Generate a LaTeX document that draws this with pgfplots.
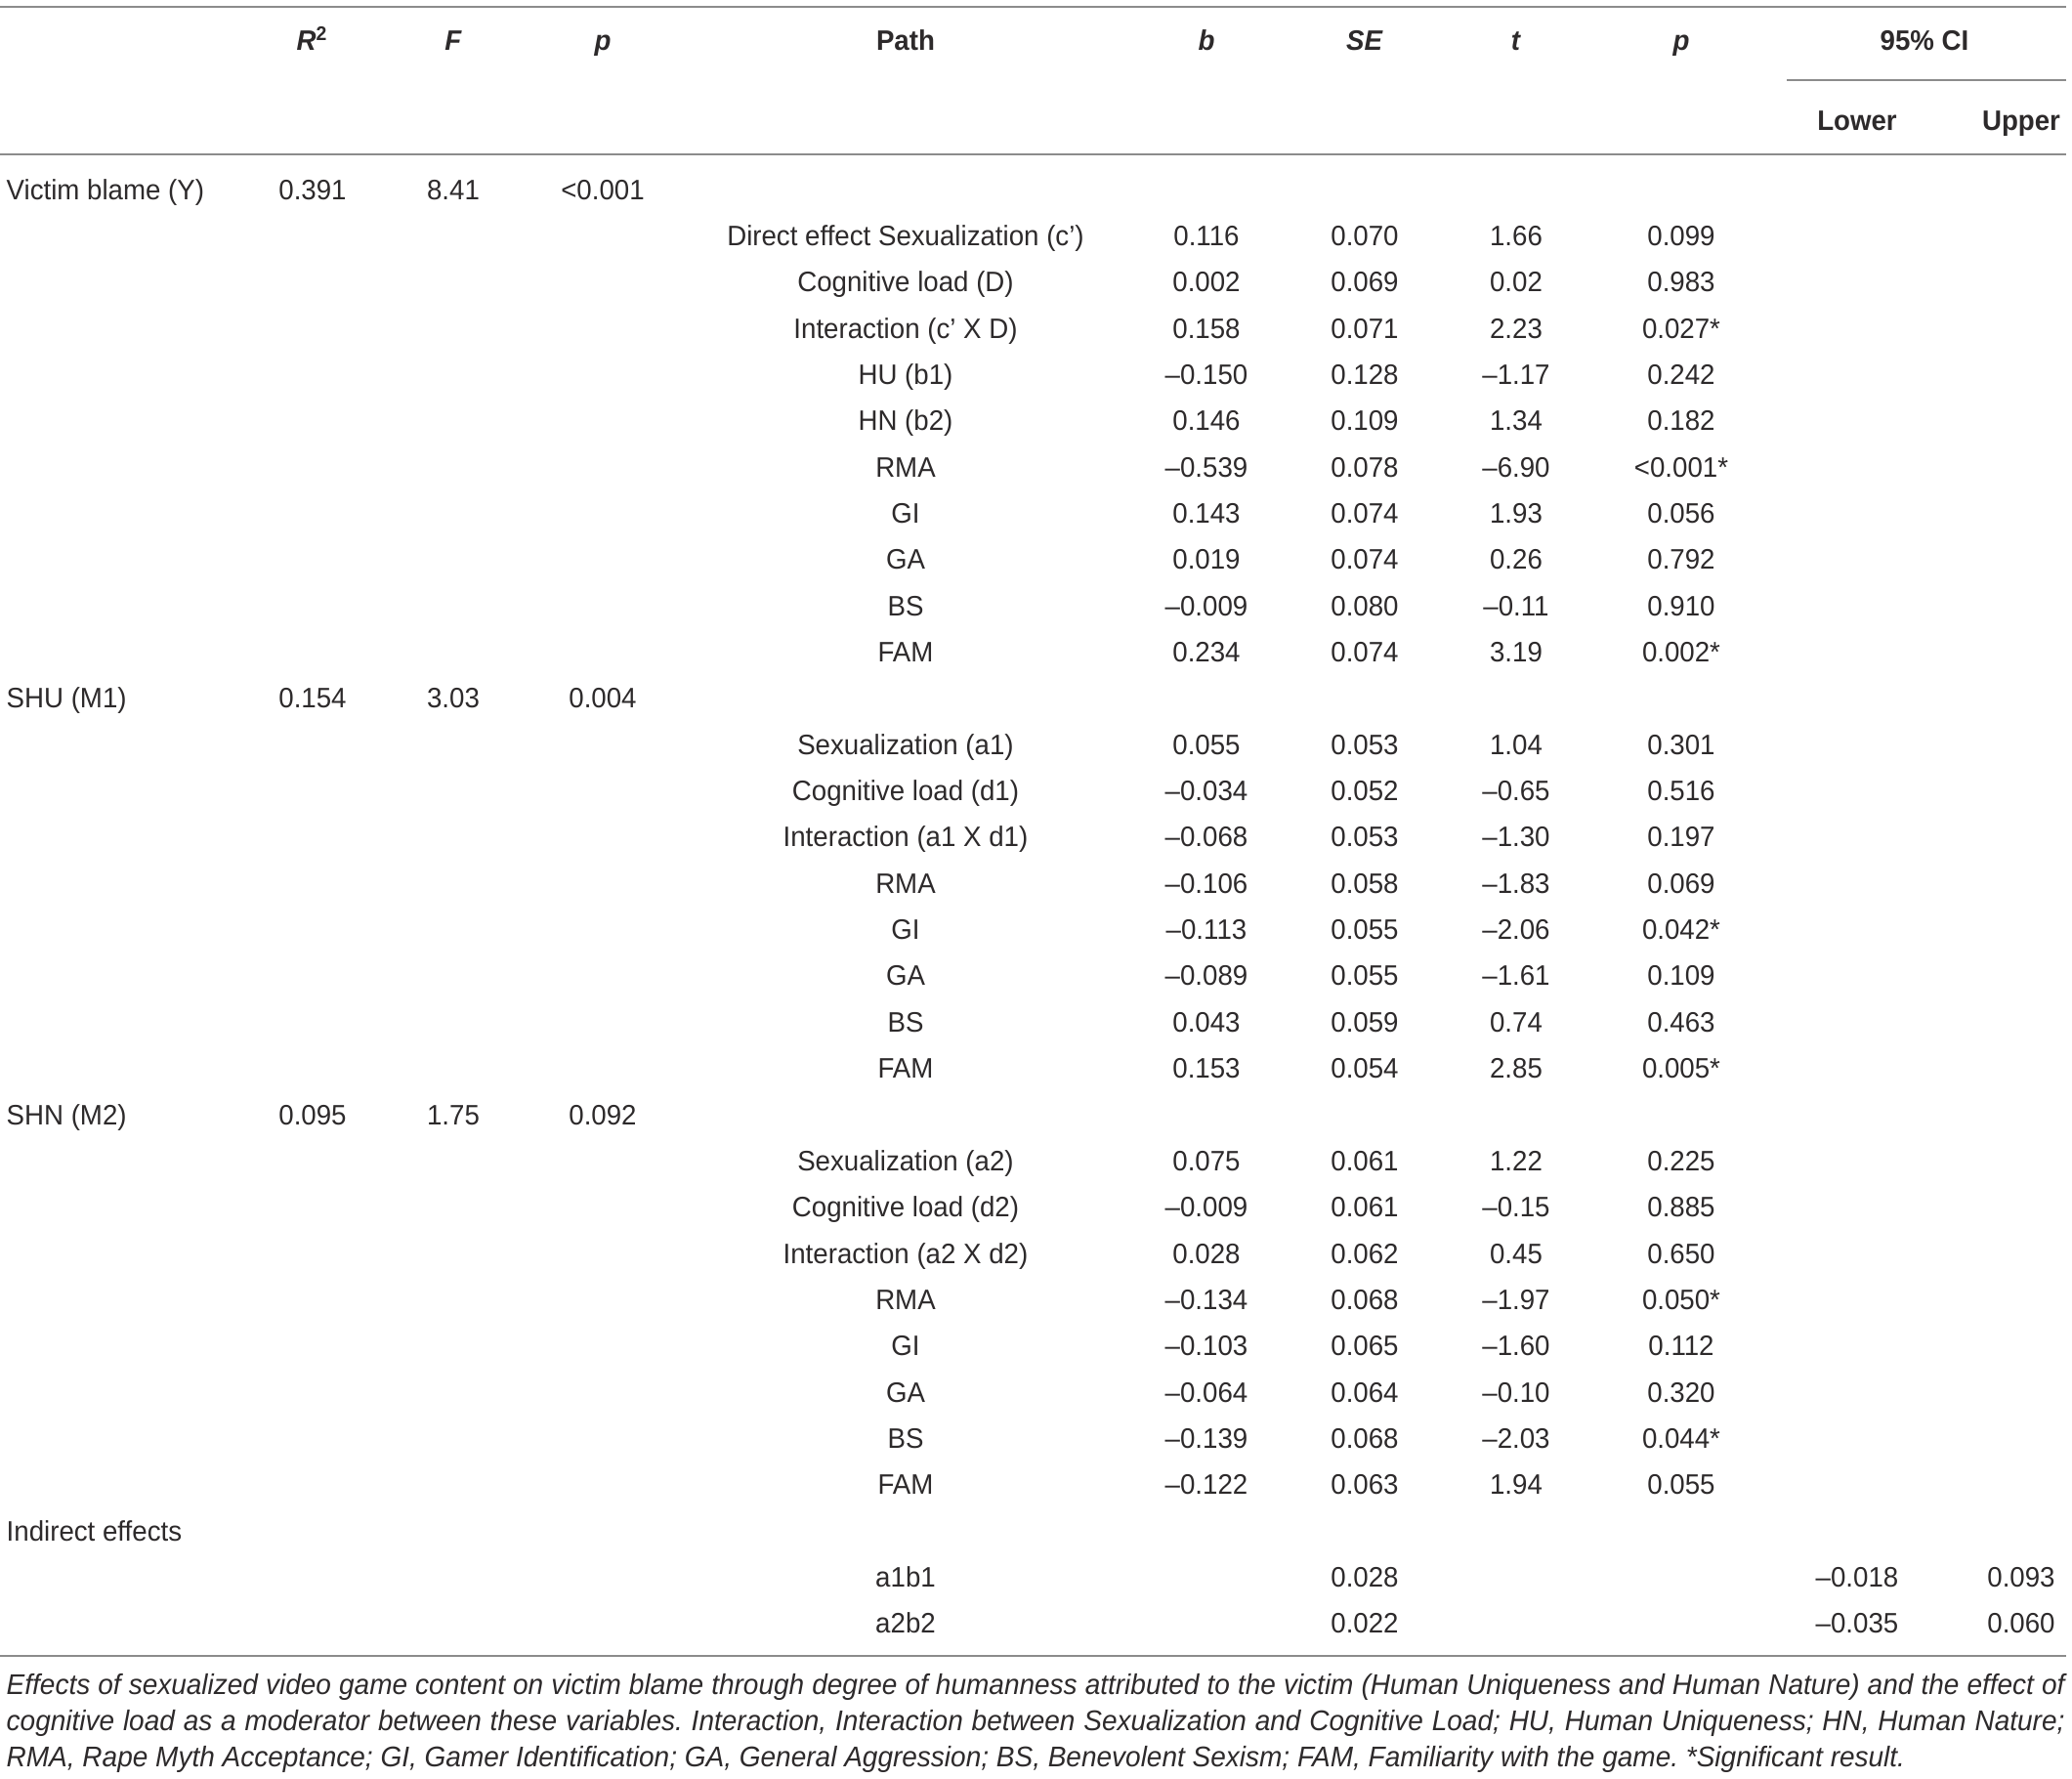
\documentclass[border=0pt]{standalone}
\usepackage{pgfplots}
\pgfplotsset{compat=1.18}
\usepackage{pgfplotstable}
\usepackage{fontspec}
\setmainfont{Liberation Sans}[FakeStretch=0.96]
\frenchspacing
\newcommand\tablefont{\fontsize{8.2}{10}\selectfont}
\newcommand\notefont{\fontsize{8.3}{10}\selectfont\itshape}
\definecolor{txt}{RGB}{45,42,43}
\definecolor{rule}{RGB}{140,140,140}

% path rows: k = row index (0 = Victim blame row)
\pgfplotstableread[col sep=comma]{
k,path,b,se,t,p
1,Direct effect Sexualization (c’),0.116,0.070,1.66,0.099
2,Cognitive load (D),0.002,0.069,0.02,0.983
3,Interaction (c’ X D),0.158,0.071,2.23,0.027*
4,HU (b1),–0.150,0.128,–1.17,0.242
5,HN (b2),0.146,0.109,1.34,0.182
6,RMA,–0.539,0.078,–6.90,<0.001*
7,GI,0.143,0.074,1.93,0.056
8,GA,0.019,0.074,0.26,0.792
9,BS,–0.009,0.080,–0.11,0.910
10,FAM,0.234,0.074,3.19,0.002*
12,Sexualization (a1),0.055,0.053,1.04,0.301
13,Cognitive load (d1),–0.034,0.052,–0.65,0.516
14,Interaction (a1 X d1),–0.068,0.053,–1.30,0.197
15,RMA,–0.106,0.058,–1.83,0.069
16,GI,–0.113,0.055,–2.06,0.042*
17,GA,–0.089,0.055,–1.61,0.109
18,BS,0.043,0.059,0.74,0.463
19,FAM,0.153,0.054,2.85,0.005*
21,Sexualization (a2),0.075,0.061,1.22,0.225
22,Cognitive load (d2),–0.009,0.061,–0.15,0.885
23,Interaction (a2 X d2),0.028,0.062,0.45,0.650
24,RMA,–0.134,0.068,–1.97,0.050*
25,GI,–0.103,0.065,–1.60,0.112
26,GA,–0.064,0.064,–0.10,0.320
27,BS,–0.139,0.068,–2.03,0.044*
28,FAM,–0.122,0.063,1.94,0.055
}\pathrows

% model rows
\pgfplotstableread[col sep=comma]{
k,name,rsq,F,p
0,Victim blame (Y),0.391,8.41,<0.001
11,SHU (M1),0.154,3.03,0.004
20,SHN (M2),0.095,1.75,0.092
}\modelrows

% indirect effects
\pgfplotstableread[col sep=comma]{
k,path,se,lower,upper
30,a1b1,0.028,–0.018,0.093
31,a2b2,0.022,–0.035,0.060
}\indirectrows

\pgfplotsset{
  cell/.style={draw=none, mark=none, nodes near coords, point meta=explicit symbolic,
    every node near coord/.append style={anchor=base, font=\tablefont, inner sep=0pt, text=txt}},
  leftcell/.style={cell, every node near coord/.append style={anchor=base west}},
}

\begin{document}
\begin{tikzpicture}
\path[use as bounding box] (0,0) rectangle (21.21cm,18.2cm);
\begin{axis}[at={(0,0)}, anchor=south west, scale only axis,
  width=21.21cm, height=18.2cm, xmin=0, xmax=2121, ymin=0, ymax=1820,
  y dir=reverse, hide axis, clip=false]

% rules
\draw[rule, line width=0.45pt] (axis cs:0,7) -- (axis cs:2115,7);
\draw[rule, line width=0.45pt] (axis cs:1829,82) -- (axis cs:2115,82);
\draw[rule, line width=0.45pt] (axis cs:0,158) -- (axis cs:2115,158);
\draw[rule, line width=0.45pt] (axis cs:0,1695) -- (axis cs:2115,1695);

% headers
\begin{scope}[every node/.style={anchor=base, font=\tablefont\bfseries, inner sep=0pt, text=txt}]
\node at (axis cs:320,51) {\textit{R}\textsuperscript{2}};
\node at (axis cs:464,51) {\textit{F}};
\node at (axis cs:617,51) {\textit{p}};
\node at (axis cs:927,51) {Path};
\node at (axis cs:1235,51) {\textit{b}};
\node at (axis cs:1397,51) {\textit{SE}};
\node at (axis cs:1552,51) {\textit{t}};
\node at (axis cs:1721,51) {\textit{p}};
\node at (axis cs:1970,51) {95\% CI};
\node at (axis cs:1901,133) {Lower};
\node at (axis cs:2069,133) {Upper};
\end{scope}

% model rows
\addplot[leftcell] table[x expr=6, y expr=204+47.35*\thisrow{k}, meta=name] {\modelrows};
\addplot[cell] table[x expr=320, y expr=204+47.35*\thisrow{k}, meta=rsq] {\modelrows};
\addplot[cell] table[x expr=464, y expr=204+47.35*\thisrow{k}, meta=F] {\modelrows};
\addplot[cell] table[x expr=617, y expr=204+47.35*\thisrow{k}, meta=p] {\modelrows};

% path rows
\addplot[cell] table[x expr=927, y expr=204+47.35*\thisrow{k}, meta=path] {\pathrows};
\addplot[cell] table[x expr=1235, y expr=204+47.35*\thisrow{k}, meta=b] {\pathrows};
\addplot[cell] table[x expr=1397, y expr=204+47.35*\thisrow{k}, meta=se] {\pathrows};
\addplot[cell] table[x expr=1552, y expr=204+47.35*\thisrow{k}, meta=t] {\pathrows};
\addplot[cell] table[x expr=1721, y expr=204+47.35*\thisrow{k}, meta=p] {\pathrows};

% indirect effects
\node[anchor=base west, font=\tablefont, inner sep=0pt, text=txt] at (axis cs:6,{204+47.35*29}) {Indirect effects};
\addplot[cell] table[x expr=927, y expr=204+47.35*\thisrow{k}, meta=path] {\indirectrows};
\addplot[cell] table[x expr=1397, y expr=204+47.35*\thisrow{k}, meta=se] {\indirectrows};
\addplot[cell] table[x expr=1901, y expr=204+47.35*\thisrow{k}, meta=lower] {\indirectrows};
\addplot[cell] table[x expr=2069, y expr=204+47.35*\thisrow{k}, meta=upper] {\indirectrows};

% footnote
\begin{scope}[every node/.style={anchor=base west, font=\notefont, inner sep=0pt, text=txt}]
\node at (axis cs:6,1734) {\makebox[210.7mm][s]{Effects of sexualized video game content on victim blame through degree of humanness attributed to the victim (Human Uniqueness and Human Nature) and the effect of}};
\node at (axis cs:6,1771) {\makebox[210.7mm][s]{cognitive load as a moderator between these variables. Interaction, Interaction between Sexualization and Cognitive Load; HU, Human Uniqueness; HN, Human Nature;}};
\node at (axis cs:6,1808) {RMA, Rape Myth Acceptance; GI, Gamer Identification; GA, General Aggression; BS, Benevolent Sexism; FAM, Familiarity with the game. *Significant result.};
\end{scope}
\end{axis}
\end{tikzpicture}
\end{document}
